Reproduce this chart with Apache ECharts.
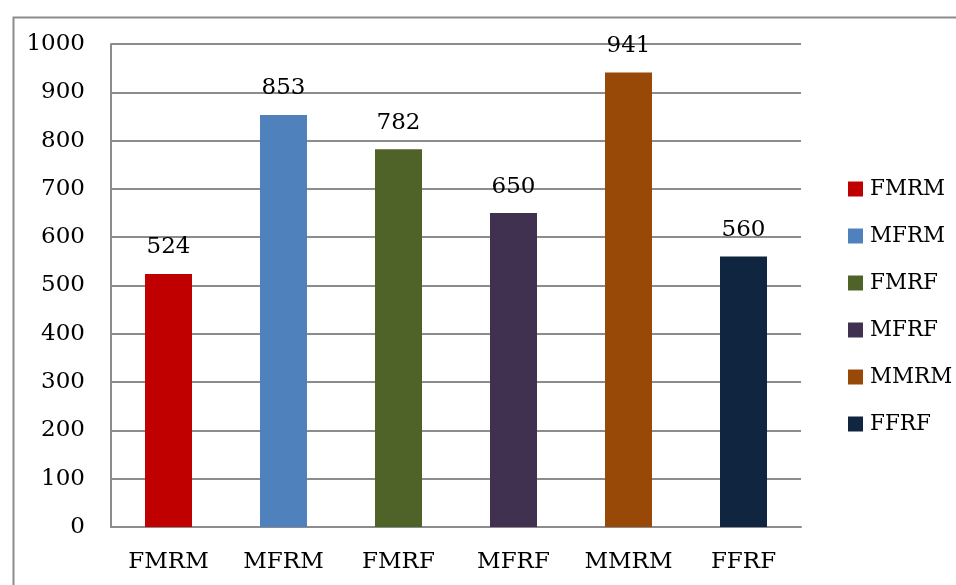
<!DOCTYPE html>
<html lang="en">
<head>
  <meta charset="UTF-8">
  <title>Bar chart</title>
  <script src="https://cdn.jsdelivr.net/npm/echarts@6/dist/echarts.min.js"></script>
  <style>
    html, body { margin: 0; padding: 0; background: #fff; }
  </style>
</head>
<body>
<div id="main" style="width: 956px;height: 585px"></div>
<script>
  const categories = ['FMRM', 'MFRM', 'FMRF', 'MFRF', 'MMRM', 'FFRF'];
  const values = [524, 853, 782, 650, 941, 560];
  const colors = ['#c00000', '#4f81bd', '#4f6228', '#403151', '#984807', '#10253f'];
  const yTicks = { min: 0, max: 1000, interval: 100 };

  const font = 'DejaVu Serif';
  const fontSize = 23;
  const lineGray = '#8c8c8c';

  // one series per category, stacked so every bar stays centred in its slot
  const series = categories.map(function (name, i) {
    return {
      name: name,
      type: 'bar',
      stack: 'all',
      barWidth: 47,
      itemStyle: { color: colors[i] },
      label: {
        show: true,
        position: 'top',
        distance: 15,
        color: '#000',
        fontFamily: font,
        fontSize: fontSize
      },
      data: categories.map(function (c, j) { return j === i ? values[i] : '-'; })
    };
  });

  const chart = echarts.init(document.getElementById('main'));
  chart.setOption({
    animation: false,
    graphic: [{
      type: 'rect',
      left: 11,
      top: 15,
      shape: { width: 1000, height: 1000 },
      style: { fill: 'none', stroke: lineGray, lineWidth: 2 },
      silent: true
    }],
    grid: { left: 111, right: 155, top: 44, bottom: 58 },
    legend: {
      orient: 'vertical',
      left: 843,
      top: 172,
      itemWidth: 15,
      itemHeight: 15,
      itemGap: 23,
      icon: 'rect',
      textStyle: {
        fontFamily: font,
        fontSize: 21.5,
        lineHeight: 24,
        color: '#000',
        padding: [0, 0, 0, 2]
      },
      data: categories
    },
    xAxis: {
      type: 'category',
      data: categories,
      axisLine: { lineStyle: { color: lineGray, width: 2 } },
      axisTick: { show: false },
      axisLabel: { fontFamily: font, fontSize: fontSize, color: '#000', margin: 24 }
    },
    yAxis: {
      type: 'value',
      min: yTicks.min,
      max: yTicks.max,
      interval: yTicks.interval,
      axisLine: { show: true, lineStyle: { color: lineGray, width: 2 } },
      axisTick: { show: false },
      splitLine: { lineStyle: { color: lineGray, width: 2 } },
      axisLabel: {
        fontFamily: font,
        fontSize: fontSize,
        color: '#000',
        margin: 26,
        formatter: function (v) { return String(v); }
      }
    },
    series: series
  });
</script>
</body>
</html>
